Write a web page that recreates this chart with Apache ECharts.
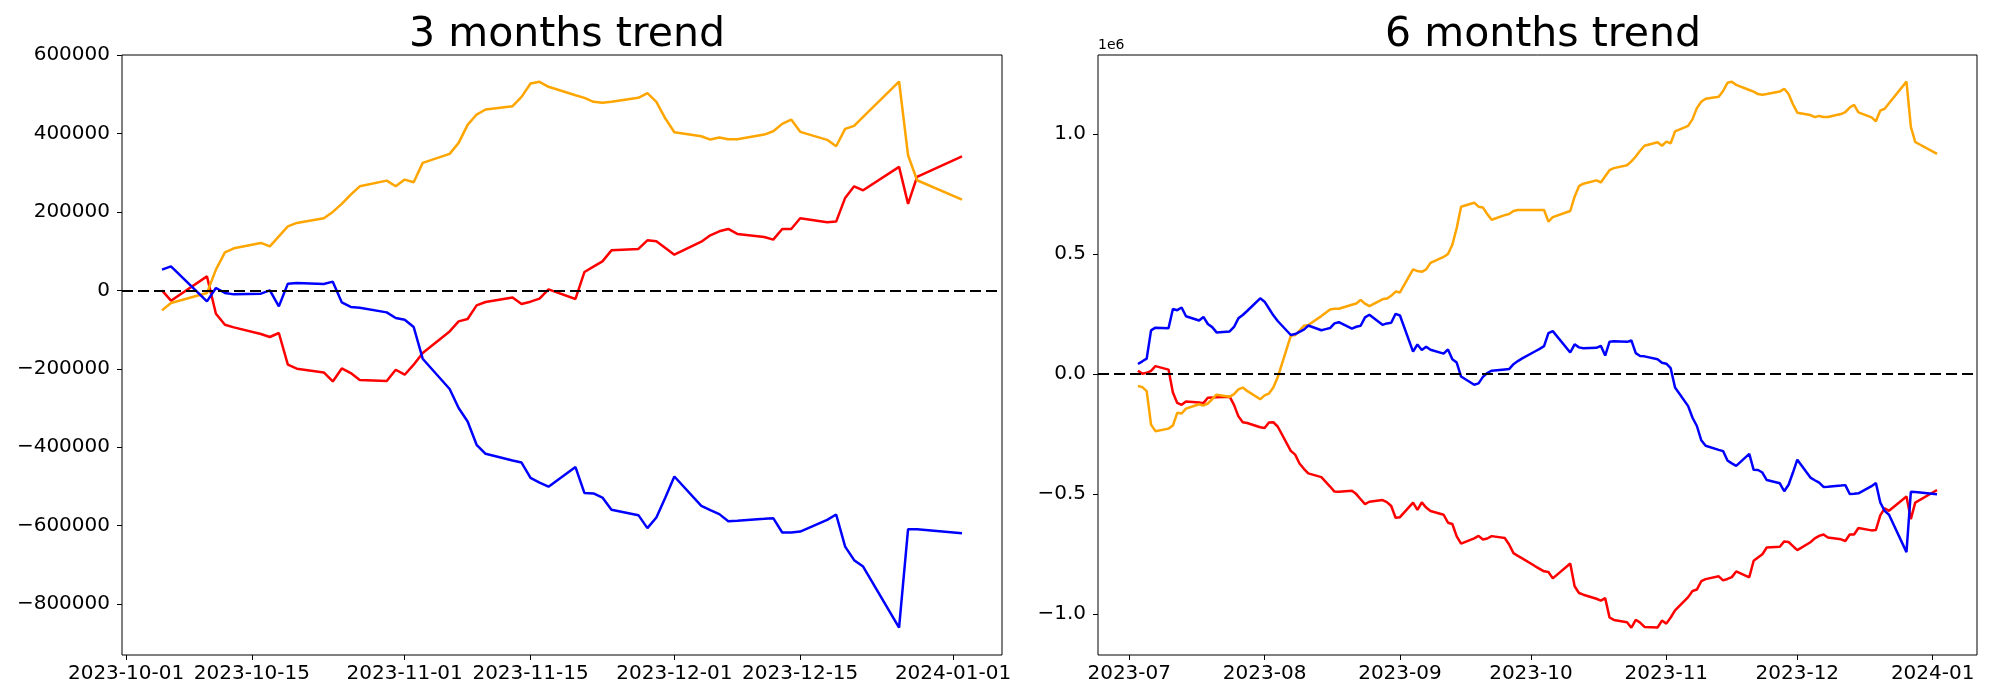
<!DOCTYPE html>
<html>
<head>
<meta charset="utf-8">
<script src="https://cdn.jsdelivr.net/npm/echarts@6/dist/echarts.min.js"></script>
<style>
html,body{margin:0;padding:0;background:#fff;}
#chart{width:2000px;height:700px;}
</style>
</head>
<body>
<div id="chart"></div>
<script>
// ---------- DATA ----------
const titles = ['3 months trend', '6 months trend'];

const dates3 = ['2023-10-05','2023-10-06','2023-10-10','2023-10-11','2023-10-12','2023-10-13','2023-10-16','2023-10-17','2023-10-18','2023-10-19','2023-10-20','2023-10-23','2023-10-24','2023-10-25','2023-10-26','2023-10-27','2023-10-30','2023-10-31',
'2023-11-01','2023-11-02','2023-11-03','2023-11-06','2023-11-07','2023-11-08','2023-11-09','2023-11-10','2023-11-13','2023-11-14','2023-11-15','2023-11-16','2023-11-17','2023-11-20','2023-11-21','2023-11-22','2023-11-23','2023-11-24','2023-11-27','2023-11-28','2023-11-29','2023-11-30',
'2023-12-01','2023-12-04','2023-12-05','2023-12-06','2023-12-07','2023-12-08','2023-12-11','2023-12-12','2023-12-13','2023-12-14','2023-12-15','2023-12-18','2023-12-19','2023-12-20','2023-12-21','2023-12-22','2023-12-26','2023-12-27','2023-12-28',
'2024-01-02'];

const orange3 = [-51000,-32200,-6700,52800,97000,107200,120900,112300,137800,163300,171900,183700,200000,220400,244100,265300,279800,265300,
282400,275500,325000,347900,376000,421900,448200,461000,469400,493300,527300,531600,518900,497400,490800,480600,478100,480600,490800,502600,480600,438000,
403100,392900,384400,389500,385200,385200,397200,405600,424500,435500,404100,383700,367300,411700,419400,442200,532400,344400,280700,
231400];

const red3 = [0,-26300,35700,-59400,-87500,-94400,-111300,-118900,-108700,-189500,-199700,-209200,-232100,-199000,-210700,-228600,-231100,-202300,
-215000,-189500,-159700,-104600,-79100,-73000,-38300,-29600,-17900,-34700,-28800,-21200,2500,-21900,46900,60500,74000,102000,105600,127600,125000,108200,
91100,124200,140300,150500,156600,143900,136200,129300,156600,156600,183700,173500,175300,235700,265300,255100,314800,220400,289300,
341800];

const blue3 = [52800,61200,-28100,6100,-6600,-10200,-8400,0,-40800,17100,18900,16300,22200,-30600,-42300,-44100,-56100,-70400,
-74700,-93400,-174200,-251500,-300000,-334200,-393600,-416600,-433700,-438800,-478200,-490000,-500400,-450500,-516800,-517700,-528100,-559400,-573000,-606100,-579100,-528100,
-474500,-549200,-560200,-570400,-588300,-587500,-582400,-580600,-617300,-617000,-614800,-585000,-571400,-653100,-687800,-704100,-859700,-608700,-609000,
-618900];

const dates6 = ['2023-07-03','2023-07-04','2023-07-05','2023-07-06','2023-07-07','2023-07-10','2023-07-11','2023-07-12','2023-07-13','2023-07-14','2023-07-17','2023-07-18','2023-07-19','2023-07-20','2023-07-21','2023-07-24','2023-07-25','2023-07-26','2023-07-27','2023-07-28','2023-07-31',
'2023-08-01','2023-08-02','2023-08-03','2023-08-04','2023-08-07','2023-08-08','2023-08-09','2023-08-10','2023-08-11','2023-08-14','2023-08-15','2023-08-16','2023-08-17','2023-08-18','2023-08-21','2023-08-22','2023-08-23','2023-08-24','2023-08-25','2023-08-28','2023-08-29','2023-08-30','2023-08-31',
'2023-09-01','2023-09-04','2023-09-05','2023-09-06','2023-09-07','2023-09-08','2023-09-11','2023-09-12','2023-09-13','2023-09-14','2023-09-15','2023-09-18','2023-09-19','2023-09-20','2023-09-21','2023-09-22','2023-09-25','2023-09-26','2023-09-27','2023-09-28','2023-09-29',
'2023-10-02','2023-10-03','2023-10-04',
'2023-10-05','2023-10-06','2023-10-10','2023-10-11','2023-10-12','2023-10-13','2023-10-16','2023-10-17','2023-10-18','2023-10-19','2023-10-20','2023-10-23','2023-10-24','2023-10-25','2023-10-26','2023-10-27','2023-10-30','2023-10-31',
'2023-11-01','2023-11-02','2023-11-03','2023-11-06','2023-11-07','2023-11-08','2023-11-09','2023-11-10','2023-11-13','2023-11-14','2023-11-15','2023-11-16','2023-11-17','2023-11-20','2023-11-21','2023-11-22','2023-11-23','2023-11-24','2023-11-27','2023-11-28','2023-11-29','2023-11-30',
'2023-12-01','2023-12-04','2023-12-05','2023-12-06','2023-12-07','2023-12-08','2023-12-11','2023-12-12','2023-12-13','2023-12-14','2023-12-15','2023-12-18','2023-12-19','2023-12-20','2023-12-21','2023-12-22','2023-12-26','2023-12-27','2023-12-28',
'2024-01-02'];

const orange6 = [-50800,-55700,-72400,-212000,-239000,-228500,-215600,-162500,-165600,-145000,-127000,-132000,-123800,-106000,-87100,-96000,-85000,-64800,-57400,-71400,-106300,
-89600,-82300,-57500,-14700,158000,161500,180000,200000,203300,240400,254000,267800,270600,271000,287600,293000,308000,292000,282000,310400,313300,325000,342800,
339000,435400,428000,425000,435000,462000,486700,499300,537500,607600,695800,712900,696200,692900,665300,641800,661000,666000,678700,682500,682500,
682500,682500,682500,
634000,652800,678300,737800,782000,792200,805900,797300,822800,848300,856900,868700,885000,905400,929100,950300,964800,950300,
967400,960500,1010000,1032900,1061000,1106900,1133200,1146000,1154400,1178300,1212300,1216600,1203900,1182400,1175800,1165600,1163100,1165600,1175800,1187600,1165600,1123000,
1088100,1077900,1069400,1074500,1070200,1070200,1082200,1090600,1109500,1120500,1089100,1068700,1052300,1096700,1104400,1127200,1217400,1029400,965700,
916400];

const red6 = [12900,600,4100,12500,31900,17500,-77800,-121400,-129400,-115500,-119700,-122300,-100000,-99300,-97400,-95400,-129500,-177400,-201500,-205000,-222900,
-225600,-202700,-202000,-219600,-321200,-337000,-374000,-395900,-414800,-430400,-450400,-469800,-490800,-491300,-487400,-501200,-522600,-542800,-533200,-526000,-534900,-551000,-599900,
-597300,-536600,-567200,-536000,-557500,-571400,-587300,-620400,-625800,-677100,-707800,-685500,-675300,-690700,-686200,-676400,-684100,-711200,-747400,-758700,-769200,
-802100,-812600,-823100,
-826000,-852300,-790300,-885400,-913500,-920400,-937300,-944900,-934700,-1015500,-1025700,-1035200,-1058100,-1025000,-1036700,-1054600,-1057100,-1028300,
-1041000,-1015500,-985700,-930600,-905100,-899000,-864300,-855600,-843900,-860700,-854800,-847200,-823500,-847900,-779100,-765500,-752000,-724000,-720400,-698400,-701000,-717800,
-734900,-701800,-685700,-675500,-669400,-682100,-689800,-696700,-669400,-669400,-642300,-652500,-650700,-590300,-560700,-570900,-511200,-605600,-536700,
-484200];

const blue6 = [40800,52000,63300,181000,192200,190000,270000,265000,276000,240000,222000,237000,207500,194500,172500,176500,195000,231000,245000,261700,314600,
300400,272000,243700,220000,161700,165500,175000,184000,201000,181500,186000,190500,210000,215000,188000,196000,200000,235000,246000,204000,210000,212900,250000,
243000,92500,122000,99000,113000,100000,84000,101500,60500,47000,-11500,-45700,-40000,-13000,3300,13000,18000,19500,40000,53000,64000,
94000,104000,115000,
169500,177900,88600,122800,110100,106500,108300,116700,75900,133800,135600,133000,138900,86100,74400,72600,60600,46300,
42000,23300,-57500,-134800,-183300,-217500,-276900,-299900,-317000,-322100,-361500,-373300,-383700,-333800,-400100,-401000,-411400,-442700,-456300,-489400,-462400,-411400,
-357800,-432500,-443500,-453700,-471600,-470800,-465700,-463900,-500600,-500300,-498100,-468300,-454700,-536400,-571100,-587400,-743000,-492000,-492300,
-502200];

const xTicks3 = ['2023-10-01','2023-10-15','2023-11-01','2023-11-15','2023-12-01','2023-12-15','2024-01-01'];
const xTicks6 = ['2023-07','2023-08','2023-09','2023-10','2023-11','2023-12','2024-01'];
const yTicks3 = [-800000,-600000,-400000,-200000,0,200000,400000,600000];
const yTicks6 = [-1000000,-500000,0,500000,1000000];
const yTickLabels6 = ['\u22121.0','\u22120.5','0.0','0.5','1.0'];
const offsetText6 = '1e6';

// ---------- HELPERS ----------
const ts = s => { const p = s.split('-').map(Number); return Date.UTC(p[0], p[1]-1, p[2] || 1); };
const zip = (d, v) => d.map((s, i) => [ts(s), v[i]]);
function xRange(d) {
  const a = ts(d[0]), b = ts(d[d.length-1]);
  const m = (b - a) * 0.05;
  return [a - m, b + m];
}
const xr3 = xRange(dates3), xr6 = xRange(dates6);
const xt3 = xTicks3.map(ts), xt6 = xTicks6.map(ts);
const lookup = (vals, labels, tol) => v => {
  for (let i = 0; i < vals.length; i++) if (Math.abs(vals[i] - v) < tol) return labels[i];
  return '';
};

const FONT = 'DejaVu Sans';
const tickFont = {fontFamily: FONT, fontSize: 20, color: '#000'};

function xAxisCfg(idx, range, tvals, tlabels) {
  return {
    type: 'value', gridIndex: idx, min: range[0], max: range[1], scale: true,
    axisLine: {show: false, onZero: false},
    axisTick: {show: true, inside: false, length: 5, lineStyle: {color: '#000', width: 1}, customValues: tvals},
    axisLabel: Object.assign({show: true, margin: 9, customValues: tvals, formatter: lookup(tvals, tlabels, 3600000), hideOverlap: false, showMinLabel: true, showMaxLabel: true}, tickFont),
    splitLine: {show: false}
  };
}
function yAxisCfg(idx, mn, mx, tvals, fmt) {
  return {
    type: 'value', gridIndex: idx, min: mn, max: mx, scale: true,
    axisLine: {show: false, onZero: false},
    axisTick: {show: true, inside: false, length: 5, lineStyle: {color: '#000', width: 1}, customValues: tvals},
    axisLabel: Object.assign({show: true, margin: 12, customValues: tvals, formatter: fmt, showMinLabel: true, showMaxLabel: true}, tickFont),
    splitLine: {show: false}
  };
}
function line(name, xi, d, v, color, extra) {
  return Object.assign({
    name: name, type: 'line', xAxisIndex: xi, yAxisIndex: xi,
    data: zip(d, v), showSymbol: false, symbol: 'none',
    lineStyle: {color: color, width: 2.5}, itemStyle: {color: color},
    animation: false
  }, extra || {});
}
const zeroLine = {
  markLine: {
    silent: true, symbol: 'none', animation: false,
    label: {show: false},
    lineStyle: {color: '#000', type: [11, 5], width: 2},
    data: [{yAxis: 0}]
  }
};

const chart = echarts.init(document.getElementById('chart'), null, {renderer: 'canvas'});
chart.setOption({
  backgroundColor: '#fff',
  animation: false,
  title: [
    {text: titles[0], left: 562, top: 10, textAlign: 'center', textStyle: {fontFamily: FONT, fontSize: 41, fontWeight: 'normal', color: '#000'}},
    {text: titles[1], left: 1538, top: 10, textAlign: 'center', textStyle: {fontFamily: FONT, fontSize: 41, fontWeight: 'normal', color: '#000'}}
  ],
  graphic: [
    {type: 'text', left: 1098, top: 38, style: {text: offsetText6, fontFamily: FONT, fontSize: 14, fill: '#000'}}
  ],
  grid: [
    {left: 122, top: 55, width: 880, height: 600, show: true, borderColor: '#000', borderWidth: 1, backgroundColor: 'transparent'},
    {left: 1098, top: 55, width: 879, height: 600, show: true, borderColor: '#000', borderWidth: 1, backgroundColor: 'transparent'}
  ],
  xAxis: [xAxisCfg(0, xr3, xt3, xTicks3), xAxisCfg(1, xr6, xt6, xTicks6)],
  yAxis: [
    yAxisCfg(0, -929500, 600000, yTicks3, v => (v < 0 ? '\u2212' : '') + Math.abs(Math.round(v))),
    yAxisCfg(1, -1171700, 1328300, yTicks6, lookup(yTicks6, yTickLabels6, 1))
  ],
  series: [
    line('red3', 0, dates3, red3, '#ff0000'),
    line('orange3', 0, dates3, orange3, '#ffa500'),
    line('blue3', 0, dates3, blue3, '#0000ff', zeroLine),
    line('red6', 1, dates6, red6, '#ff0000'),
    line('orange6', 1, dates6, orange6, '#ffa500'),
    line('blue6', 1, dates6, blue6, '#0000ff', zeroLine)
  ]
});
</script>
</body>
</html>
